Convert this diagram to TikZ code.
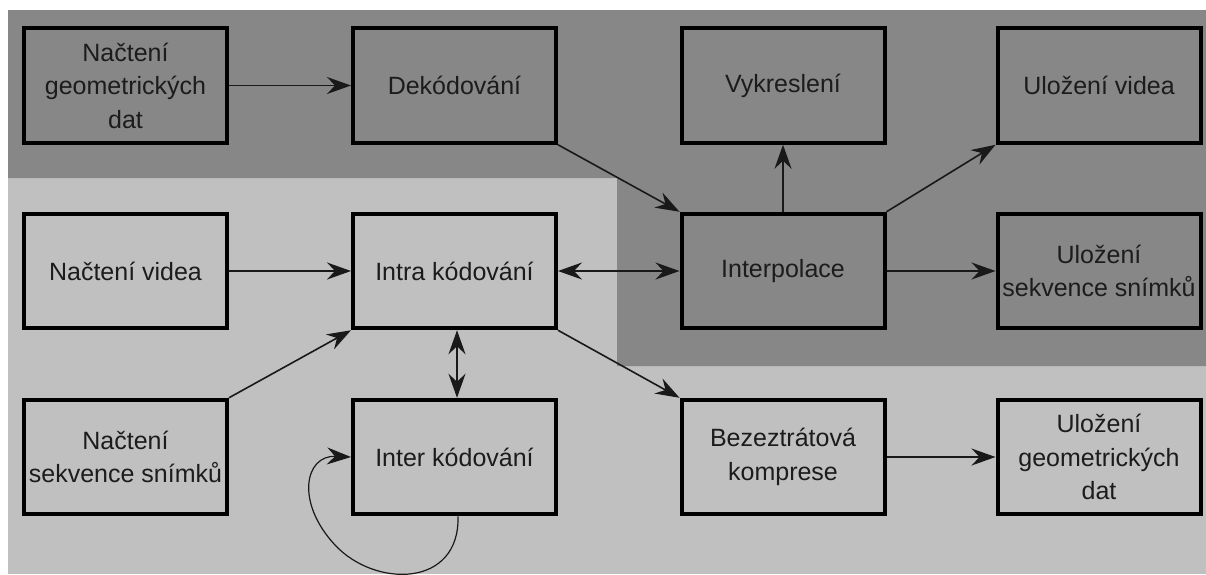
\documentclass[tikz,border=0pt]{standalone}
\usepackage{fontspec}
\setmainfont{Liberation Sans}
\usetikzlibrary{arrows.meta}
\definecolor{darkbg}{RGB}{135,135,135}
\definecolor{lightbg}{RGB}{192,192,192}
\definecolor{txt}{RGB}{28,28,28}
\begin{document}
\begin{tikzpicture}[x=1pt,y=-1pt,
  box/.style={draw=black, line width=4pt, minimum width=203pt, minimum height=114.5pt,
    inner sep=0pt, align=center, font=\fontsize{25}{33.5}\selectfont, text=txt},
  conn/.style={line width=1.6pt, draw=black!90, -{Stealth[length=24pt,width=17pt,inset=8pt]}},
  connboth/.style={line width=1.6pt, draw=black!90, {Stealth[length=24pt,width=17pt,inset=8pt]}-{Stealth[length=24pt,width=17pt,inset=8pt]}},
]
\useasboundingbox (0,0) rectangle (1206,574);
\fill[white] (0,0) rectangle (1206,574);
\fill[lightbg] (8,10) rectangle (1206,574);
\fill[darkbg] (8,10) -- (1206,10) -- (1206,366) -- (617,366) -- (617,178) -- (8,178) -- cycle;

% row 1
\node[box] (ngd) at (125.5,85.5) {Načtení\\geometrických\\dat};
\node[box] (dek) at (454.5,85.5) {Dekódování};
\node[box] (vyk) at (783,85.5) {Vykreslení};
\node[box] (uv)  at (1099,85.5) {Uložení videa};
% row 2
\node[box] (nv)     at (125.5,271) {Načtení videa};
\node[box] (intra)  at (454.5,271) {Intra kódování};
\node[box] (interp) at (783,271) {Interpolace};
\node[box] (uss)    at (1099,271) {Uložení\\sekvence snímků};
% row 3
\node[box] (nss)   at (125.5,457) {Načtení\\sekvence snímků};
\node[box] (inter) at (454.5,457) {Inter kódování};
\node[box] (bk)    at (783,457) {Bezeztrátová\\komprese};
\node[box] (ugd)   at (1099,457) {Uložení\\geometrických\\dat};

% connectors
\draw[conn] (ngd) -- (dek);
\draw[conn] (dek.south east) -- (interp.north west);
\draw[conn] (interp.north) -- (vyk.south);
\draw[conn] (interp.north east) -- (uv.south west);
\draw[conn] (interp) -- (uss);
\draw[connboth] (intra) -- (interp);
\draw[conn] (nv) -- (intra);
\draw[conn] (nss.north east) -- (intra.south west);
\draw[connboth] ([xshift=2.5pt]intra.south) -- ([xshift=2.5pt]inter.north);
\draw[conn] (intra.south east) -- (bk.north west);
\draw[conn] (bk) -- (ugd);
\draw[conn, line width=1.2pt] ([xshift=3.5pt]inter.south) .. controls (460,588) and (375,588) .. (335,545)
  .. controls (295,502) and (305,455) .. (inter.west);
\end{tikzpicture}
\end{document}
